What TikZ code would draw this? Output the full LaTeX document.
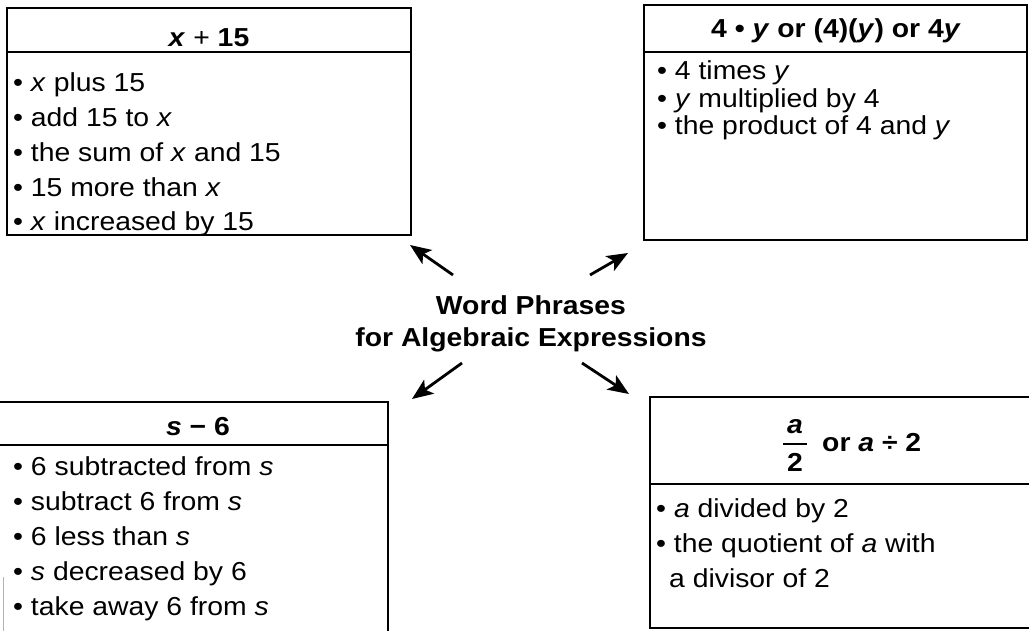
\documentclass[tikz,border=0pt]{standalone}
\usepackage{fontspec}
\setmainfont[FakeStretch=1.09]{Liberation Sans}
\usetikzlibrary{arrows.meta}
\begin{document}
\begin{tikzpicture}[x=1pt,y=-1pt,
  boxline/.style={line width=2.2pt, line cap=rect},
  item/.style={anchor=base west, inner sep=0pt, font=\fontsize{26}{30}\selectfont},
  head/.style={anchor=base, inner sep=0pt, font=\fontsize{26}{30}\selectfont\bfseries},
  arr/.style={line width=2.8pt, -{Stealth[length=21pt,width=17pt,inset=5pt]}}]
\useasboundingbox (0,0) rectangle (1029,631);
\fill[white] (0,0) rectangle (1029,631);
\clip (0,0) rectangle (1029,631);

% top-left box
\draw[boxline] (7,8) rectangle (411,235);
\draw[boxline] (7,52) -- (411,52);
\node[head] (h1) at (209,47) {\textit{x} {\mdseries+} 15};
\node[item] (a1) at (13,92) {• \textit{x} plus 15};
\node[item] (a2) at (13,127) {• add 15 to \textit{x}};
\node[item] (a3) at (13,162) {• the sum of \textit{x} and 15};
\node[item] (a4) at (13,197) {• 15 more than \textit{x}};
\node[item] (a5) at (13,231) {• \textit{x} increased by 15};

% top-right box
\draw[boxline] (644,5) rectangle (1027,240);
\draw[boxline] (644,52) -- (1027,52);
\node[head] (h2) at (836,38) {4 • \textit{y} or (4)(\textit{y}) or 4\textit{y}};
\node[item] (b1) at (657,80) {• 4 times \textit{y}};
\node[item] (b2) at (657,108) {• \textit{y} multiplied by 4};
\node[item] (b3) at (657,135) {• the product of 4 and \textit{y}};

% bottom-left box
\draw[boxline] (-5,402) -- (388,402) -- (388,640);
\draw[boxline] (-5,445) -- (388,445);
\draw[gray!60, line width=1pt] (3,577) -- (3,631);
\node[head] (h3) at (198,435) {\textit{s} − 6};
\node[item] (c1) at (13,475) {• 6 subtracted from \textit{s}};
\node[item] (c2) at (13,510) {• subtract 6 from \textit{s}};
\node[item] (c3) at (13,545) {• 6 less than \textit{s}};
\node[item] (c4) at (13,580) {• \textit{s} decreased by 6};
\node[item] (c5) at (13,615) {• take away 6 from \textit{s}};

% bottom-right box
\draw[boxline] (1040,397) -- (650,397) -- (650,628) -- (1040,628);
\draw[boxline] (650,484) -- (1040,484);
\node[head] (fa) at (795,433) {\textit{a}};
\coordinate (barL) at (783,444);
\coordinate (barR) at (807,444);
\draw[line width=2.2pt] (barL) -- (barR);
\node[head] (f2) at (795,471) {2};
\node[head, anchor=base west] (h4) at (822,451) {or \textit{a} ÷ 2};
\node[item] (d1) at (656,517) {• \textit{a} divided by 2};
\node[item] (d2) at (656,552) {• the quotient of \textit{a} with};
\node[item] (d3) at (669,587) {a divisor of 2};

% title
\node[head] (t1) at (531,315) {Word Phrases};
\node[head] (t2) at (531,346) {for Algebraic Expressions};

% arrows
\coordinate (s1) at (453,275); \coordinate (e1) at (410,245);
\coordinate (s2) at (590,275); \coordinate (e2) at (628,253);
\coordinate (s3) at (462,363); \coordinate (e3) at (412,399);
\coordinate (s4) at (582,363); \coordinate (e4) at (629,394);
\draw[arr] (s1) -- (e1);
\draw[arr] (s2) -- (e2);
\draw[arr] (s3) -- (e3);
\draw[arr] (s4) -- (e4);
\end{tikzpicture}
\end{document}
